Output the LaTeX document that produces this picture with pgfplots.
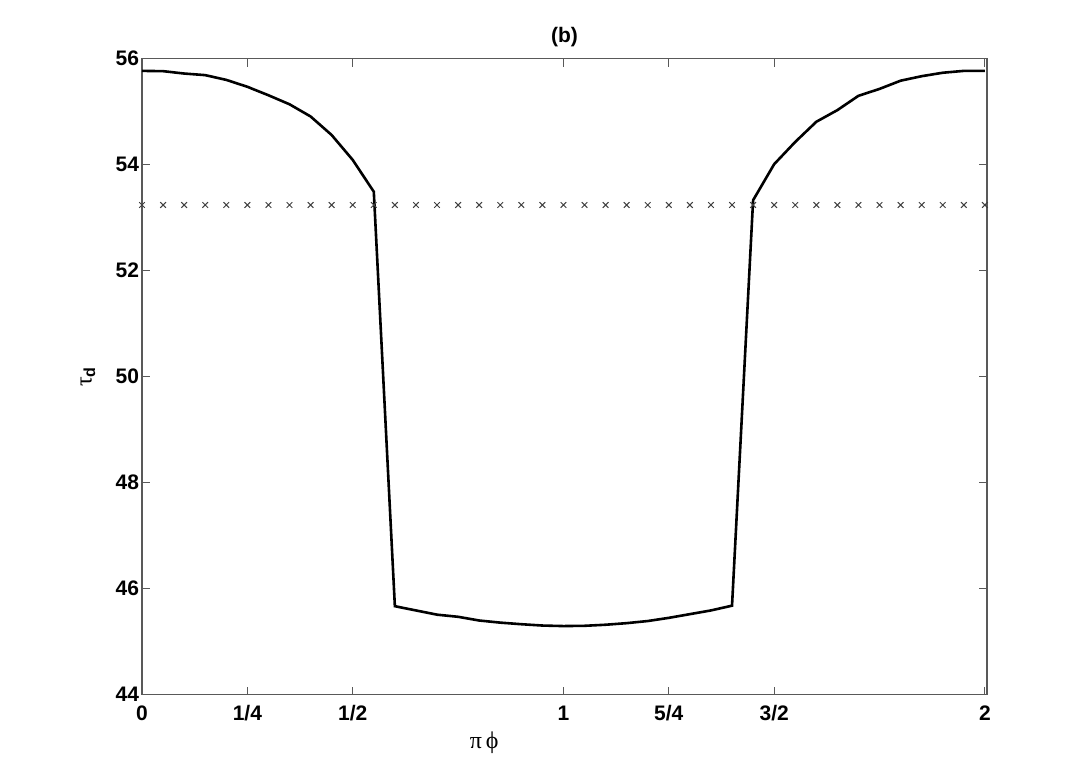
\documentclass[border=0pt]{standalone}
\usepackage{pgfplots}
\pgfplotsset{compat=1.18}
\usepackage{graphicx}
\usepackage{fontspec}
\setmainfont{Liberation Sans}
\newfontfamily\symb{Liberation Serif}
\begin{document}
\begin{tikzpicture}
	% page frame: 1091 x 782 px at 0.5pt per px, axis box at (142,695) px
	\useasboundingbox (-71pt,-43.65pt) rectangle ++(545.5pt,391pt);
	\begin{axis}[
		at={(0,0)}, anchor=south west,
		scale only axis,
		width=422.5pt,
		height=318pt,
		xmin=0, xmax=2.005,
		ymin=44, ymax=56,
		xtick={0,0.25,0.5,1,1.25,1.5,2},
		xticklabels={0,1/4,1/2,1,5/4,3/2,2},
		ytick={44,46,...,56},
		tick align=inside,
		major tick length=4pt,
		axis line style={black!65, line width=0.6pt},
		every tick/.style={black!65, line width=0.5pt},
		tick label style={font=\bfseries\fontsize{10.5}{12}\selectfont},
		/pgf/number format/assume math mode=true,
		xticklabel style={yshift=-2pt},
		yticklabel style={xshift=2pt},
		title={(b)},
		title style={font=\bfseries\fontsize{10.5}{12}\selectfont, at={(axis description cs:0.5,1)}, anchor=base, yshift=2.2pt},
		xlabel={{\symb π\,ϕ}},
		xlabel style={font=\fontsize{12}{13}\selectfont, at={(axis description cs:0.405,0)}, anchor=north, yshift=-15pt},
		clip=false,
		]
		\node[font=\fontsize{12}{13}\selectfont, inner sep=0pt] at (axis description cs:-0.064,0.5) {\rotatebox{90}{{\symb τ}\textsubscript{\bfseries d}}};
		\addplot[black, line width=1.3pt] coordinates {
			(0,55.77)(0.05,55.765)(0.1,55.72)(0.15,55.69)(0.2,55.60)(0.25,55.47)
			(0.3,55.31)(0.35,55.14)(0.4,54.91)(0.45,54.56)(0.5,54.09)(0.55,53.49)
			(0.6,45.67)(0.65,45.59)(0.7,45.51)(0.75,45.47)(0.8,45.40)(0.85,45.36)
			(0.9,45.33)(0.95,45.305)(1.0,45.295)(1.05,45.30)(1.1,45.32)(1.15,45.35)
			(1.2,45.39)(1.25,45.45)(1.3,45.52)(1.35,45.59)(1.4,45.68)(1.45,53.33)
			(1.5,54.01)(1.55,54.43)(1.6,54.81)(1.65,55.03)(1.7,55.30)(1.75,55.43)
			(1.8,55.585)(1.85,55.67)(1.9,55.735)(1.95,55.77)(2.0,55.77)
		};
		\addplot[only marks, mark=x, mark size=2pt, black!75, line width=0.5pt] coordinates {
			(0,53.24)(0.05,53.24)(0.1,53.24)(0.15,53.24)(0.2,53.24)(0.25,53.24)
			(0.3,53.24)(0.35,53.24)(0.4,53.24)(0.45,53.24)(0.5,53.24)(0.55,53.24)
			(0.6,53.24)(0.65,53.24)(0.7,53.24)(0.75,53.24)(0.8,53.24)(0.85,53.24)
			(0.9,53.24)(0.95,53.24)(1.0,53.24)(1.05,53.24)(1.1,53.24)(1.15,53.24)
			(1.2,53.24)(1.25,53.24)(1.3,53.24)(1.35,53.24)(1.4,53.24)(1.45,53.24)
			(1.5,53.24)(1.55,53.24)(1.6,53.24)(1.65,53.24)(1.7,53.24)(1.75,53.24)
			(1.8,53.24)(1.85,53.24)(1.9,53.24)(1.95,53.24)(2.0,53.24)
		};
	\end{axis}
\end{tikzpicture}
\end{document}
